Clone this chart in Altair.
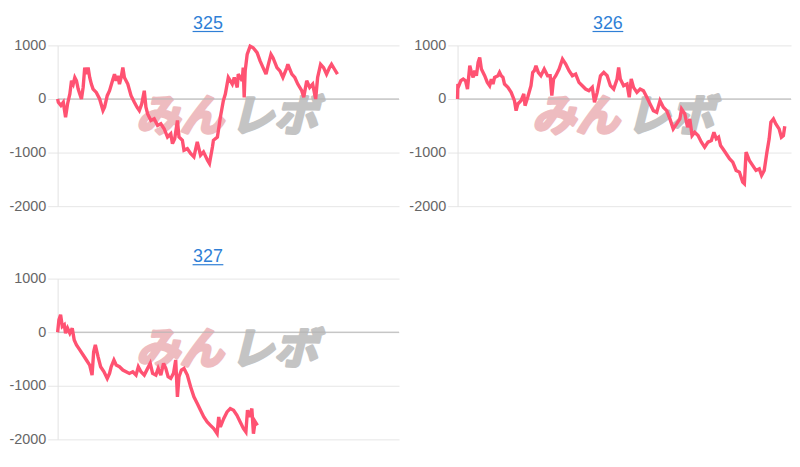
import altair as alt
import pandas as pd

# ---- data (games played, balance difference) ----
titles = ["325", "326", "327"]

games_325 = [0, 18, 83, 143, 200, 250, 308, 350, 393, 433, 475, 518, 558, 600, 643, 683, 725, 768, 808, 850,
             893, 975, 1058, 1143, 1183, 1250, 1308, 1393, 1433, 1475, 1518, 1558, 1600, 1643, 1683, 1725, 1768,
             1850, 1933, 2000, 2058, 2118, 2183, 2225, 2268, 2350, 2433, 2518, 2600, 2683, 2768, 2850, 2893, 2950,
             3018, 3058, 3143, 3183, 3268, 3350, 3433, 3518, 3600, 3675, 3775, 3825, 3900, 3925, 4025, 4100, 4175,
             4225, 4300, 4400, 4450, 4525, 4550, 4650, 4675, 4700, 4725, 4775, 4850, 4925, 5025, 5100, 5175, 5250,
             5300, 5375, 5425, 5525, 5600, 5675, 5775, 5800, 5900, 5975, 6050, 6150, 6200, 6275, 6350, 6425, 6500,
             6550, 6625, 6700, 6775, 6850, 6900, 6975, 7050]
diff_325 = [0, -62, -123, -62, -340, -93, 93, 340, 278, 401, 340, 185, 93, 0, 216, 586, 463, 586, 401, 278,
            185, 123, 0, -216, -154, 62, 154, 370, 463, 340, 432, 278, 401, 586, 401, 340, 278,
            62, -62, -154, -216, -93, 154, -154, -278, -401, -370, -494, -463, -555, -710, -648, -833, -740,
            -401, -710, -771, -956, -926, -1018, -1080, -800, -1049, -987, -1141, -1203, -895, -771, -710, -340, -31,
            93, 401, 278, 401, 216, 463, 340, 586, 31, 524, 833, 987, 956, 864, 710, 586, 463,
            617, 833, 771, 586, 524, 401, 586, 648, 463, 401, 278, 154, 31, 340, 216, 278, 0,
            401, 648, 586, 463, 586, 648, 555, 463]

games_326 = [0, 8, 33, 83, 143, 200, 250, 308, 350, 393, 433, 475, 518, 558, 600, 643, 683, 750, 808, 850,
             893, 933, 1018, 1058, 1100, 1143, 1183, 1268, 1350, 1433, 1475, 1518, 1600, 1668, 1700, 1768, 1850,
             1893, 1933, 1975, 2033, 2100, 2183, 2268, 2333, 2375, 2418, 2475, 2558, 2643, 2725, 2808, 2893, 2975,
             3058, 3143, 3225, 3308, 3393, 3450, 3518, 3600, 3683, 3768, 3850, 3933, 4018, 4058, 4100, 4183, 4268,
             4325, 4375, 4433, 4518, 4600, 4683, 4768, 4850, 4933, 5018, 5100, 5183, 5268, 5350, 5433, 5518, 5600,
             5643, 5725, 5793, 5850, 5908, 5975, 6058, 6143, 6225, 6308, 6393, 6458, 6518, 6575, 6625, 6683, 6768,
             6850, 6933, 7018, 7100, 7183, 7225, 7268, 7350, 7433, 7518, 7600, 7658, 7725, 7793, 7850, 7893, 7958,
             8018, 8100, 8158, 8208, 8243]
diff_326 = [0, 279, 248, 341, 372, 341, 186, 620, 496, 403, 527, 434, 682, 775, 558, 496, 434, 310, 248, 372,
            279, 403, 434, 496, 434, 403, 279, 217, 124, -31, -217, -93, -31, 93, -124, 31, 248,
            496, 527, 620, 496, 434, 558, 434, 434, 62, 372, 434, 558, 744, 651, 527, 434, 465,
            310, 248, 186, 155, 217, -62, 124, 434, 496, 434, 248, 186, 372, 589, 372, 248, 279,
            31, 372, 217, 124, 186, 155, 31, -93, -217, -248, -31, -155, -217, -372, -558, -465, -372,
            -186, -279, -527, -372, -682, -620, -682, -806, -899, -806, -775, -620, -744, -713, -868, -930, -1023,
            -1116, -1178, -1333, -1364, -1550, -1581, -992, -1147, -1240, -1333, -1302, -1426, -1333, -992, -744, -434, -372,
            -465, -558, -713, -682, -508]

games_327 = [0, 33, 75, 118, 168, 200, 250, 308, 368, 418, 475, 558, 643, 725, 808, 868, 908, 950, 1018, 1083,
             1168, 1250, 1308, 1350, 1418, 1475, 1558, 1643, 1725, 1808, 1893, 1975, 2033, 2100, 2183, 2268, 2333,
             2393, 2475, 2533, 2600, 2668, 2725, 2783, 2850, 2918, 2975, 3018, 3058, 3118, 3183, 3268, 3350, 3433,
             3518, 3600, 3683, 3768, 3850, 3933, 4018, 4058, 4100, 4183, 4268, 4350, 4433, 4518, 4600, 4683, 4743,
             4783, 4833, 4893, 4933, 4975, 5033]
diff_327 = [0, 231, 325, 106, 138, -19, 75, -19, 75, -144, -238, -331, -425, -519, -613, -800, -363, -238, -456, -644,
            -738, -863, -769, -644, -519, -613, -644, -706, -738, -769, -738, -800, -644, -738, -800, -675, -581,
            -769, -800, -675, -800, -581, -675, -831, -863, -769, -519, -1206, -831, -706, -675, -800, -1019, -1206,
            -1331, -1456, -1581, -1675, -1738, -1800, -1894, -1581, -1769, -1613, -1488, -1425, -1456, -1550, -1675, -1800, -1863,
            -1456, -1581, -1425, -1894, -1669, -1738]

y_ticks = [-2000, -1000, 0, 1000]

LINE = "#ff5272"
LINK = "#2f7fd6"
FONT = "Liberation Sans"


def panel(title, games, diffs, width, xmax):
    df = pd.DataFrame({"games": games, "diff": diffs})
    one = pd.DataFrame({"k": [0]})
    x = alt.X("games:Q", scale=alt.Scale(domain=[0, xmax], nice=False, zero=True), axis=None)
    y = alt.Y("diff:Q", scale=alt.Scale(domain=[-2000, 1000], nice=False),
              axis=alt.Axis(values=y_ticks, title=None, grid=True, gridColor="#e6e6e6",
                            domainColor="#e3e3e3", tickColor="#e6e6e6", tickSize=10,
                            labelPadding=2, labelFont=FONT, labelFontSize=14.5,
                            labelExpr="'' + datum.value",
                            labelColor="#666666", labelFontWeight="normal"))
    wm1 = alt.Chart(one).mark_text(text="みん", font="Noto Sans CJK JP", fontWeight="bold",
                                   fontStyle="italic", fontSize=44, color="#eebcc0",
                                   stroke="#eebcc0", strokeWidth=3, strokeJoin="round",
                                   align="right", baseline="middle").encode(
        x=alt.value(width / 2 - 5), y=alt.value(73))
    wm2 = alt.Chart(one).mark_text(text="レボ", font="Noto Sans CJK JP", fontWeight="bold",
                                   fontStyle="italic", fontSize=44, color="#c4c4c4",
                                   stroke="#c4c4c4", strokeWidth=3, strokeJoin="round",
                                   align="left", baseline="middle").encode(
        x=alt.value(width / 2 + 2), y=alt.value(73))
    ttl = alt.Chart(one).mark_text(text=title, font=FONT, fontSize=18, color=LINK,
                                   align="center", baseline="alphabetic").encode(
        x=alt.value(151.5), y=alt.value(-17))
    und = alt.Chart(one).mark_rule(color=LINK, strokeWidth=1.2).encode(
        x=alt.value(136), x2=alt.value(167), y=alt.value(-14))
    zero = alt.Chart(one).mark_rule(color="#b3b3b3", strokeWidth=1).encode(y=alt.datum(0))
    line = alt.Chart(df).mark_line(color=LINE, strokeWidth=3.4, strokeJoin="miter",
                                   strokeMiterLimit=3).encode(x=x, y=y)
    return alt.layer(wm1, wm2, zero, line, ttl, und).properties(width=width, height=162)


p1 = panel(titles[0], games_325, diff_325, 344, 8600)
p2 = panel(titles[1], games_326, diff_326, 336, 8400)
p3 = panel(titles[2], games_327, diff_327, 344, 8600)

chart = alt.vconcat(alt.hconcat(p1, p2, spacing=8), p3, spacing=35).properties(
    padding={"top": 5, "left": 0, "right": 0, "bottom": 0}
).configure_view(stroke=None)

chart.save("out.html", embed_options={"renderer": "svg", "actions": False})
